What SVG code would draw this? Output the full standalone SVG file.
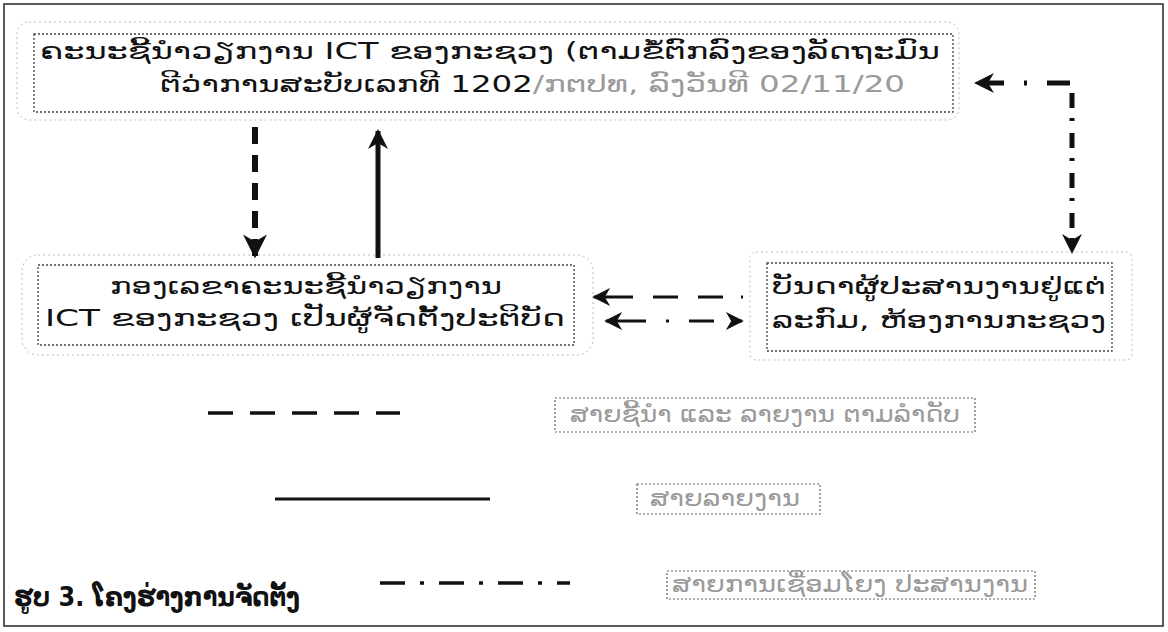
<svg xmlns="http://www.w3.org/2000/svg" width="1168" height="632" viewBox="0 0 1168 632">
<defs>
<style>
.lao{font-family:"DejaVu Sans","Noto Sans",sans-serif;font-size:23px;fill:#111}
.faint{fill:#9a9a9a}
.box{fill:none;stroke:#444;stroke-width:1.3;stroke-dasharray:2 2}
.halo{fill:none;stroke:#bbb;stroke-width:1;stroke-dasharray:2 3}
.leg{fill:none;stroke:#666;stroke-width:1.2;stroke-dasharray:2 2}
.c{fill:none;stroke:#111}
</style>
<marker id="ah" viewBox="0 0 10 10" refX="9" refY="5" markerWidth="4" markerHeight="4" markerUnits="strokeWidth" orient="auto">
<path d="M0,0 L10,5 L0,10 L3,5 z" fill="#111"/>
</marker>
<marker id="ahs" viewBox="0 0 10 10" refX="9" refY="5" markerWidth="6" markerHeight="6" markerUnits="strokeWidth" orient="auto-start-reverse">
<path d="M0,0 L10,5 L0,10 L3,5 z" fill="#111"/>
</marker>
</defs>
<rect x="0" y="0" width="1168" height="632" fill="#fff"/>
<rect x="4" y="4" width="1159" height="622" fill="none" stroke="#333" stroke-width="1.6"/>

<g id="node-committee">
<rect class="halo" x="17" y="22" width="942" height="98" rx="12"/>
<rect class="box" x="34" y="34" width="919" height="78"/>
<text class="lao" x="40" y="59" textLength="900" lengthAdjust="spacingAndGlyphs">ຄະນະຊີ້ນຳວຽກງານ ICT ຂອງກະຊວງ (ຕາມຂໍ້ຕົກລົງຂອງລັດຖະມົນ</text>
<text class="lao" x="160" y="92" textLength="745" lengthAdjust="spacingAndGlyphs">ຕີວ່າການສະບັບເລກທີ 1202<tspan class="faint">/ກຕປທ, ລົງວັນທີ 02/11/20</tspan></text>
</g>

<g id="node-secretariat">
<rect class="halo" x="22" y="255" width="571" height="100" rx="16"/>
<rect class="box" x="38" y="265" width="536" height="80"/>
<text class="lao" x="110" y="294" textLength="392" lengthAdjust="spacingAndGlyphs">ກອງເລຂາຄະນະຊີ້ນຳວຽກງານ</text>
<text class="lao" x="45" y="326" textLength="520" lengthAdjust="spacingAndGlyphs">ICT ຂອງກະຊວງ ເປັນຜູ້ຈັດຕັ້ງປະຕິບັດ</text>
</g>

<g id="node-coordinators">
<rect class="halo" x="750" y="252" width="382" height="108" rx="6"/>
<rect class="box" x="767" y="263" width="345" height="88"/>
<text class="lao" x="772" y="294" textLength="334" lengthAdjust="spacingAndGlyphs">ບັນດາຜູ້ປະສານງານຢູ່ແຕ່</text>
<text class="lao" x="772" y="328" textLength="334" lengthAdjust="spacingAndGlyphs">ລະກົມ, ຫ້ອງການກະຊວງ</text>
</g>

<g id="connectors">
<line class="c" x1="255" y1="127" x2="255" y2="256" stroke-width="6" stroke-dasharray="17 11" marker-end="url(#ah)"/>
<line class="c" x1="378" y1="258" x2="378" y2="131" stroke-width="5" marker-end="url(#ah)"/>
<line class="c" x1="1072" y1="93" x2="1072" y2="252" stroke-width="5" stroke-dasharray="15 10 3 12" marker-end="url(#ah)"/>
<line class="c" x1="1070" y1="83" x2="976" y2="83" stroke-width="5" stroke-dasharray="23 20 3 20" marker-end="url(#ah)"/>
<line class="c" x1="743" y1="297" x2="594" y2="297" stroke-width="3" stroke-dasharray="2 18 25 20 25 20 40" marker-end="url(#ahs)"/>
<line class="c" x1="606" y1="321" x2="742" y2="321" stroke-width="3" stroke-dasharray="40 20 3 20 25 20" marker-start="url(#ahs)" marker-end="url(#ahs)"/>
</g>

<g id="legend">
<line class="c" x1="208" y1="413" x2="400" y2="413" stroke-width="3.5" stroke-dasharray="25 17"/>
<rect class="leg" x="555" y="398" width="420" height="34"/>
<text class="lao faint" x="570" y="422" font-size="21" textLength="390" lengthAdjust="spacingAndGlyphs">ສາຍຊີ້ນຳ ແລະ ລາຍງານ ຕາມລຳດັບ</text>
<line class="c" x1="275" y1="499" x2="490" y2="499" stroke-width="3"/>
<rect class="leg" x="637" y="484" width="183" height="30"/>
<text class="lao faint" x="650" y="506" font-size="21" textLength="150" lengthAdjust="spacingAndGlyphs">ສາຍລາຍງານ</text>
<line class="c" x1="380" y1="583" x2="570" y2="583" stroke-width="3.5" stroke-dasharray="25 15 4 15"/>
<rect class="leg" x="667" y="571" width="368" height="28"/>
<text class="lao faint" x="672" y="592" font-size="21" textLength="356" lengthAdjust="spacingAndGlyphs">ສາຍການເຊື່ອມໂຍງ ປະສານງານ</text>
</g>

<text id="caption" x="14" y="606" font-family="DejaVu Sans, sans-serif" font-size="26" font-weight="bold" fill="#111" textLength="286" lengthAdjust="spacingAndGlyphs">ຮູບ 3. ໂຄງຮ່າງການຈັດຕັ້ງ</text>
</svg>
